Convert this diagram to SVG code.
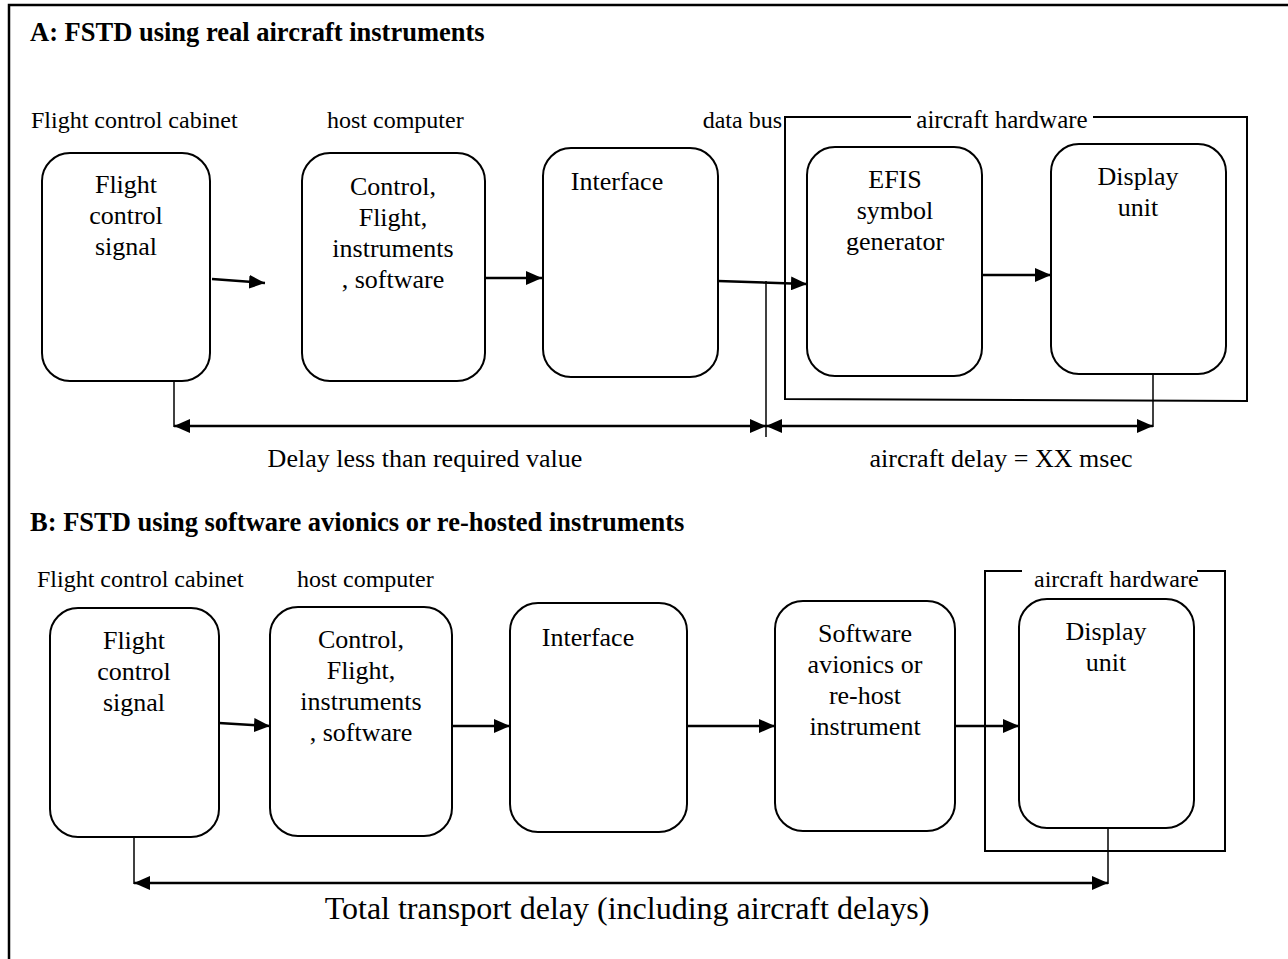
<svg xmlns="http://www.w3.org/2000/svg" width="1288" height="959" viewBox="0 0 1288 959">
<style>
text{font-family:"Liberation Serif","Times New Roman",serif;fill:#000}
.t{font-size:26.5px;font-weight:bold}
.h{font-size:24px}
.l{font-size:26px;text-anchor:middle}
.d{font-size:26px;text-anchor:middle}
.box{fill:#fff;stroke:#000;stroke-width:2}
.br{fill:none;stroke:#000;stroke-width:2}
.c{fill:none;stroke:#000;stroke-width:2.5}
.a{marker-end:url(#ah)}
.aa{marker-start:url(#ah);marker-end:url(#ah)}
</style>
<defs>
<marker id="ah" viewBox="0 0 16 14" refX="16" refY="7" markerWidth="16" markerHeight="14" markerUnits="userSpaceOnUse" orient="auto-start-reverse"><path d="M0,0 L16,7 L0,14 Z" fill="#000"/></marker>
</defs>
<rect width="1288" height="959" fill="#fff"/>
<path d="M9,959 V5 H1288" fill="none" stroke="#000" stroke-width="2.5"/>

<g id="labels">
<text class="t" x="30" y="41">A: FSTD using real aircraft instruments</text>
<text class="h" x="31" y="128">Flight control cabinet</text>
<text class="h" x="327" y="128">host computer</text>
<text class="h" x="782" y="128" text-anchor="end">data bus</text>
<text class="h" x="1002" y="128" text-anchor="middle" style="font-size:25px">aircraft hardware</text>
<text class="d" x="425" y="467">Delay less than required value</text>
<text class="d" x="1001" y="467">aircraft delay = XX msec</text>
<text class="t" x="30" y="531">B: FSTD using software avionics or re-hosted instruments</text>
<text class="h" x="37" y="587">Flight control cabinet</text>
<text class="h" x="297" y="587">host computer</text>
<text class="h" x="1034" y="587">aircraft hardware</text>
<text class="d" x="627" y="919" style="font-size:32px">Total transport delay (including aircraft delays)</text>
</g>

<g id="bracketA"><path class="br" d="M911,117 H785 V399 L1247,401 V117 H1093"/></g>
<g id="bracketB"><path class="br" d="M1022,571 H985 V851 H1225 V571 H1197"/></g>

<g id="A1"><rect class="box" x="42" y="153" width="168" height="228" rx="28"/>
<text class="l" x="126" y="193">Flight</text><text class="l" x="126" y="224">control</text><text class="l" x="126" y="255">signal</text></g>
<g id="A2"><rect class="box" x="302" y="153" width="183" height="228" rx="28"/>
<text class="l" x="393" y="195">Control,</text><text class="l" x="393" y="226">Flight,</text><text class="l" x="393" y="257">instruments</text><text class="l" x="393" y="288">, software</text></g>
<g id="A3"><rect class="box" x="543" y="148" width="175" height="229" rx="28"/>
<text class="l" x="617" y="190">Interface</text></g>
<g id="A4"><rect class="box" x="807" y="147" width="175" height="229" rx="28"/>
<text class="l" x="895" y="188">EFIS</text><text class="l" x="895" y="219">symbol</text><text class="l" x="895" y="250">generator</text></g>
<g id="A5"><rect class="box" x="1051" y="144" width="175" height="230" rx="28"/>
<text class="l" x="1138" y="185">Display</text><text class="l" x="1138" y="216">unit</text></g>

<g id="B1"><rect class="box" x="50" y="608" width="169" height="229" rx="28"/>
<text class="l" x="134" y="649">Flight</text><text class="l" x="134" y="680">control</text><text class="l" x="134" y="711">signal</text></g>
<g id="B2"><rect class="box" x="270" y="607" width="182" height="229" rx="28"/>
<text class="l" x="361" y="648">Control,</text><text class="l" x="361" y="679">Flight,</text><text class="l" x="361" y="710">instruments</text><text class="l" x="361" y="741">, software</text></g>
<g id="B3"><rect class="box" x="510" y="603" width="177" height="229" rx="28"/>
<text class="l" x="588" y="646">Interface</text></g>
<g id="B4"><rect class="box" x="775" y="601" width="180" height="230" rx="28"/>
<text class="l" x="865" y="642">Software</text><text class="l" x="865" y="673">avionics or</text><text class="l" x="865" y="704">re-host</text><text class="l" x="865" y="735">instrument</text></g>
<g id="B5"><rect class="box" x="1019" y="599" width="175" height="229" rx="28"/>
<text class="l" x="1106" y="640">Display</text><text class="l" x="1106" y="671">unit</text></g>

<g id="connectors">
<line class="c a" x1="212" y1="279" x2="265" y2="283"/>
<line class="c a" x1="485" y1="278" x2="542" y2="278"/>
<line class="c a" x1="718" y1="281" x2="807" y2="284"/>
<line class="c a" x1="982" y1="275" x2="1051" y2="275"/>
<line x1="766" y1="281" x2="766" y2="437" stroke="#000" stroke-width="1.5"/>
<line x1="174" y1="381" x2="174" y2="427" stroke="#000" stroke-width="1.5"/>
<line class="c aa" x1="174" y1="426" x2="766" y2="426"/>
<line class="c aa" x1="766" y1="426" x2="1153" y2="426"/>
<line x1="1153" y1="374" x2="1153" y2="427" stroke="#000" stroke-width="1.5"/>

<line class="c a" x1="219" y1="723" x2="270" y2="726"/>
<line class="c a" x1="452" y1="726" x2="510" y2="726"/>
<line class="c a" x1="687" y1="726" x2="775" y2="726"/>
<line class="c a" x1="955" y1="726" x2="1019" y2="726"/>
<line x1="134" y1="837" x2="134" y2="884" stroke="#000" stroke-width="1.5"/>
<line class="c aa" x1="134" y1="883" x2="1108" y2="883"/>
<line x1="1108" y1="828" x2="1108" y2="884" stroke="#000" stroke-width="1.5"/>
</g>
</svg>
